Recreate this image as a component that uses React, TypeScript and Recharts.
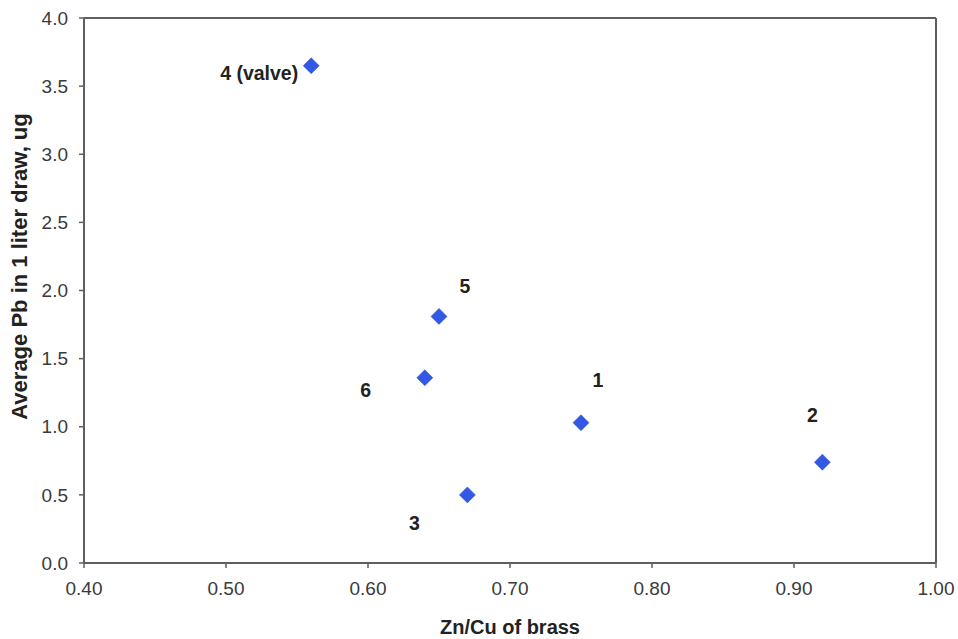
import React from "react";
import {
  ScatterChart,
  Scatter,
  XAxis,
  YAxis,
  ReferenceLine,
  Label,
} from "recharts";

// brass samples: Zn/Cu ratio vs average Pb
const sampleLabels = ["1", "2", "3", "4 (valve)", "5", "6"];
const znCuRatio = [0.75, 0.92, 0.67, 0.56, 0.65, 0.64];
const avgPb = [1.03, 0.74, 0.5, 3.65, 1.81, 1.36];

const xTicks = [0.4, 0.5, 0.6, 0.7, 0.8, 0.9, 1.0];
const yTicks = [0, 0.5, 1, 1.5, 2, 2.5, 3, 3.5, 4];

const data = sampleLabels.map((label, i) => ({
  label,
  x: znCuRatio[i],
  y: avgPb[i],
}));

const FONT = '"Liberation Sans", Arial, sans-serif';
const AXIS = "#5f5f5f";

// where each label sits relative to its marker
const labelOffset: Record<string, { dx: number; dy: number; anchor: string }> = {
  "1": { dx: 17, dy: -43, anchor: "middle" },
  "2": { dx: -10, dy: -47, anchor: "middle" },
  "3": { dx: -53, dy: 28, anchor: "middle" },
  "4 (valve)": { dx: -13, dy: 7, anchor: "end" },
  "5": { dx: 26, dy: -30, anchor: "middle" },
  "6": { dx: -59, dy: 12, anchor: "middle" },
};

function DiamondPoint(props: any) {
  const { cx, cy, payload } = props;
  const r = 8;
  const off = labelOffset[payload.label] || { dx: 10, dy: -10, anchor: "start" };
  return (
    <g>
      <polygon
        points={`${cx},${cy - r} ${cx + r},${cy} ${cx},${cy + r} ${cx - r},${cy}`}
        fill="#3358e6"
        stroke="#2a46c0"
        strokeWidth={0.5}
      />
      <text
        x={cx + off.dx}
        y={cy + off.dy}
        textAnchor={off.anchor as any}
        dominantBaseline="central"
        fontFamily={FONT}
        fontWeight="bold"
        fontSize={19.5}
        fill="#222"
      >
        {payload.label}
      </text>
    </g>
  );
}

function XTitle(props: any) {
  const { viewBox } = props;
  return (
    <text
      x={viewBox.x + viewBox.width / 2}
      y={viewBox.y + 64}
      textAnchor="middle"
      dominantBaseline="central"
      fontFamily={FONT}
      fontWeight="bold"
      fontSize={20}
      fill="#222"
    >
      Zn/Cu of brass
    </text>
  );
}

function YTitle(props: any) {
  const { viewBox } = props;
  const x = viewBox.x - 21;
  const y = viewBox.y + viewBox.height / 2 - 24;
  return (
    <text
      x={x}
      y={y}
      transform={`rotate(-90, ${x}, ${y})`}
      textAnchor="middle"
      dominantBaseline="central"
      fontFamily={FONT}
      fontWeight="bold"
      fontSize={22}
      fill="#222"
    >
      Average Pb in 1 liter draw, ug
    </text>
  );
}

export default function App() {
  const tick = { fontSize: 19, fill: "#3a3a3a", fontFamily: FONT };
  return (
    <div style={{ position: "absolute", left: 0, top: 0, width: 958, height: 639, background: "#fff" }}>
      <ScatterChart
        width={958}
        height={639}
        margin={{ top: 18, right: 22, left: 40, bottom: 36 }}
      >
        <XAxis
          type="number"
          dataKey="x"
          domain={[0.4, 1.0]}
          ticks={xTicks}
          tickFormatter={(v: number) => v.toFixed(2)}
          tick={tick}
          tickSize={5}
          tickMargin={14}
          height={40}
          axisLine={{ stroke: AXIS, strokeWidth: 2 }}
          tickLine={{ stroke: AXIS, strokeWidth: 1.5 }}
          allowDataOverflow
        >
          <Label content={<XTitle />} />
        </XAxis>
        <YAxis
          type="number"
          dataKey="y"
          domain={[0, 4]}
          ticks={yTicks}
          tickFormatter={(v: number) => v.toFixed(1)}
          tick={tick}
          tickSize={5}
          tickMargin={11}
          width={44}
          axisLine={{ stroke: AXIS, strokeWidth: 2 }}
          tickLine={{ stroke: AXIS, strokeWidth: 1.5 }}
          allowDataOverflow
        >
          <Label content={<YTitle />} />
        </YAxis>
        <ReferenceLine y={4} stroke={AXIS} strokeWidth={2} />
        <ReferenceLine x={1.0} stroke={AXIS} strokeWidth={2} />
        <Scatter data={data} shape={<DiamondPoint />} isAnimationActive={false} />
      </ScatterChart>
    </div>
  );
}
